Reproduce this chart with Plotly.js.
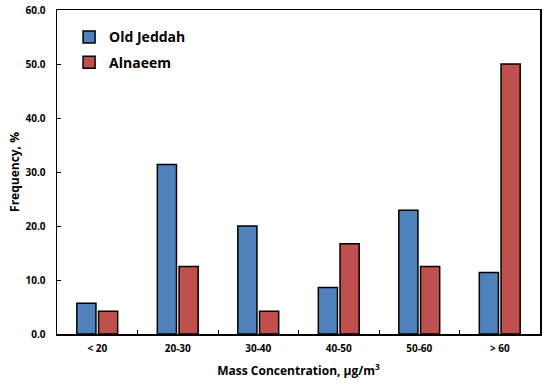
<!DOCTYPE html>
<html><head><meta charset="utf-8">
<script src="https://cdn.plot.ly/plotly-3.0.1.min.js"></script>
<style>html,body{margin:0;padding:0;background:#fff}#c{width:550px;height:385px}</style>
</head><body><div id="c"></div>
<script>
const categories = ["< 20", "20-30", "30-40", "40-50", "50-60", "> 60"];
const oldJeddah = [5.7, 31.4, 20.0, 8.6, 22.9, 11.4];
const alnaeem = [4.2, 12.5, 4.2, 16.7, 12.5, 50.0];
const yTicks = [0, 10, 20, 30, 40, 50, 60];
const yTickLabels = ["0.0", "10.0", "20.0", "30.0", "40.0", "50.0", "60.0"];

const font = "'Open Sans', sans-serif";
const traces = [
  {type: "bar", name: "Old Jeddah", x: categories, y: oldJeddah, legendgroup: "a",
   marker: {color: "#4F81BD", line: {color: "#000", width: 1.5}}},
  {type: "bar", name: "Alnaeem", x: categories, y: alnaeem, legendgroup: "b",
   marker: {color: "#C0504D", line: {color: "#000", width: 1.5}}}
];
const layout = {
  width: 550, height: 385,
  margin: {l: 57, r: 10, t: 10, b: 51},
  paper_bgcolor: "#fff", plot_bgcolor: "#fff",
  barmode: "group", bargap: 0.46, bargroupgap: 0.12,
  font: {family: font, color: "#000"},
  showlegend: true,
  legend: {x: 0.025, y: 0.965, xanchor: "left", yanchor: "top",
    font: {family: font, size: 14, weight: 700}, bgcolor: "rgba(0,0,0,0)",
    itemwidth: 30, tracegroupgap: 4, traceorder: "grouped"},
  xaxis: {type: "category", showline: true, linecolor: "#000", linewidth: 1.5, mirror: true,
    ticks: "inside", tickson: "boundaries", ticklen: 4, tickcolor: "#000",
    tickfont: {family: font, size: 10, weight: 700}, ticklabelstandoff: 4,
    title: {text: "Mass Concentration, μg/m<sup>3</sup>", font: {family: font, size: 12, weight: 700}, standoff: 13},
    showgrid: false, zeroline: false},
  yaxis: {range: [0, 60], tickvals: yTicks, ticktext: yTickLabels,
    showline: true, linecolor: "#000", linewidth: 1.5, mirror: true,
    ticks: "inside", ticklen: 4, tickcolor: "#000",
    tickfont: {family: font, size: 10, weight: 700}, ticklabelstandoff: 8,
    title: {text: "Frequency, %", font: {family: font, size: 12, weight: 700}, standoff: 3},
    showgrid: false, zeroline: false}
};
Plotly.newPlot("c", traces, layout, {displayModeBar: false, staticPlot: true});
</script></body></html>
